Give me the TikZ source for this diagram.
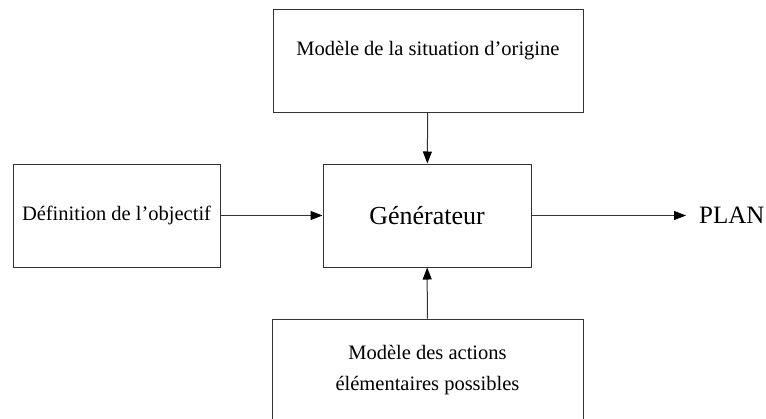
\documentclass[tikz,border=0pt]{standalone}
\usepackage{fontspec}
\setmainfont{Liberation Serif}
\usetikzlibrary{arrows.meta}

\tikzset{
  box/.style={draw=black!80, line width=1pt, minimum height=103pt, inner sep=0pt,
    font=\fontsize{20.5}{31}\selectfont, align=center},
  link/.style={draw=black!80, line width=1pt, -{Triangle[length=12pt,width=9pt,color=black]}}
}

\begin{document}
\begin{tikzpicture}[x=1pt,y=-1pt]
  \useasboundingbox (0,0) rectangle (766,418);
  \clip (0,0) rectangle (766,418);

  \node (orig) [box, minimum width=310pt, text height=14pt, text depth=24.5pt] at (428,60.5) {Mod\`ele de la situation d'origine};
  \node (obj) [box, minimum width=207pt] at (116.5,215.5) {D\'efinition de l'objectif};
  \node (gen) [box, minimum width=208pt, font=\fontsize{26}{31}\selectfont] at (427,215.5) {G\'en\'erateur};
  \node (act) [box, minimum width=311pt] at (427.5,370.5) {Mod\`ele des actions\\ \'el\'ementaires possibles};
  \node (plan) [anchor=west, inner sep=0pt, inner xsep=13pt, font=\fontsize{25}{30}\selectfont] at (686,215.5) {PLAN};

  \draw [link] (orig) -- (gen);
  \draw [link] (obj) -- (gen);
  \draw [link] (act) -- (gen);
  \draw [link] (gen) -- (plan);
\end{tikzpicture}
\end{document}
